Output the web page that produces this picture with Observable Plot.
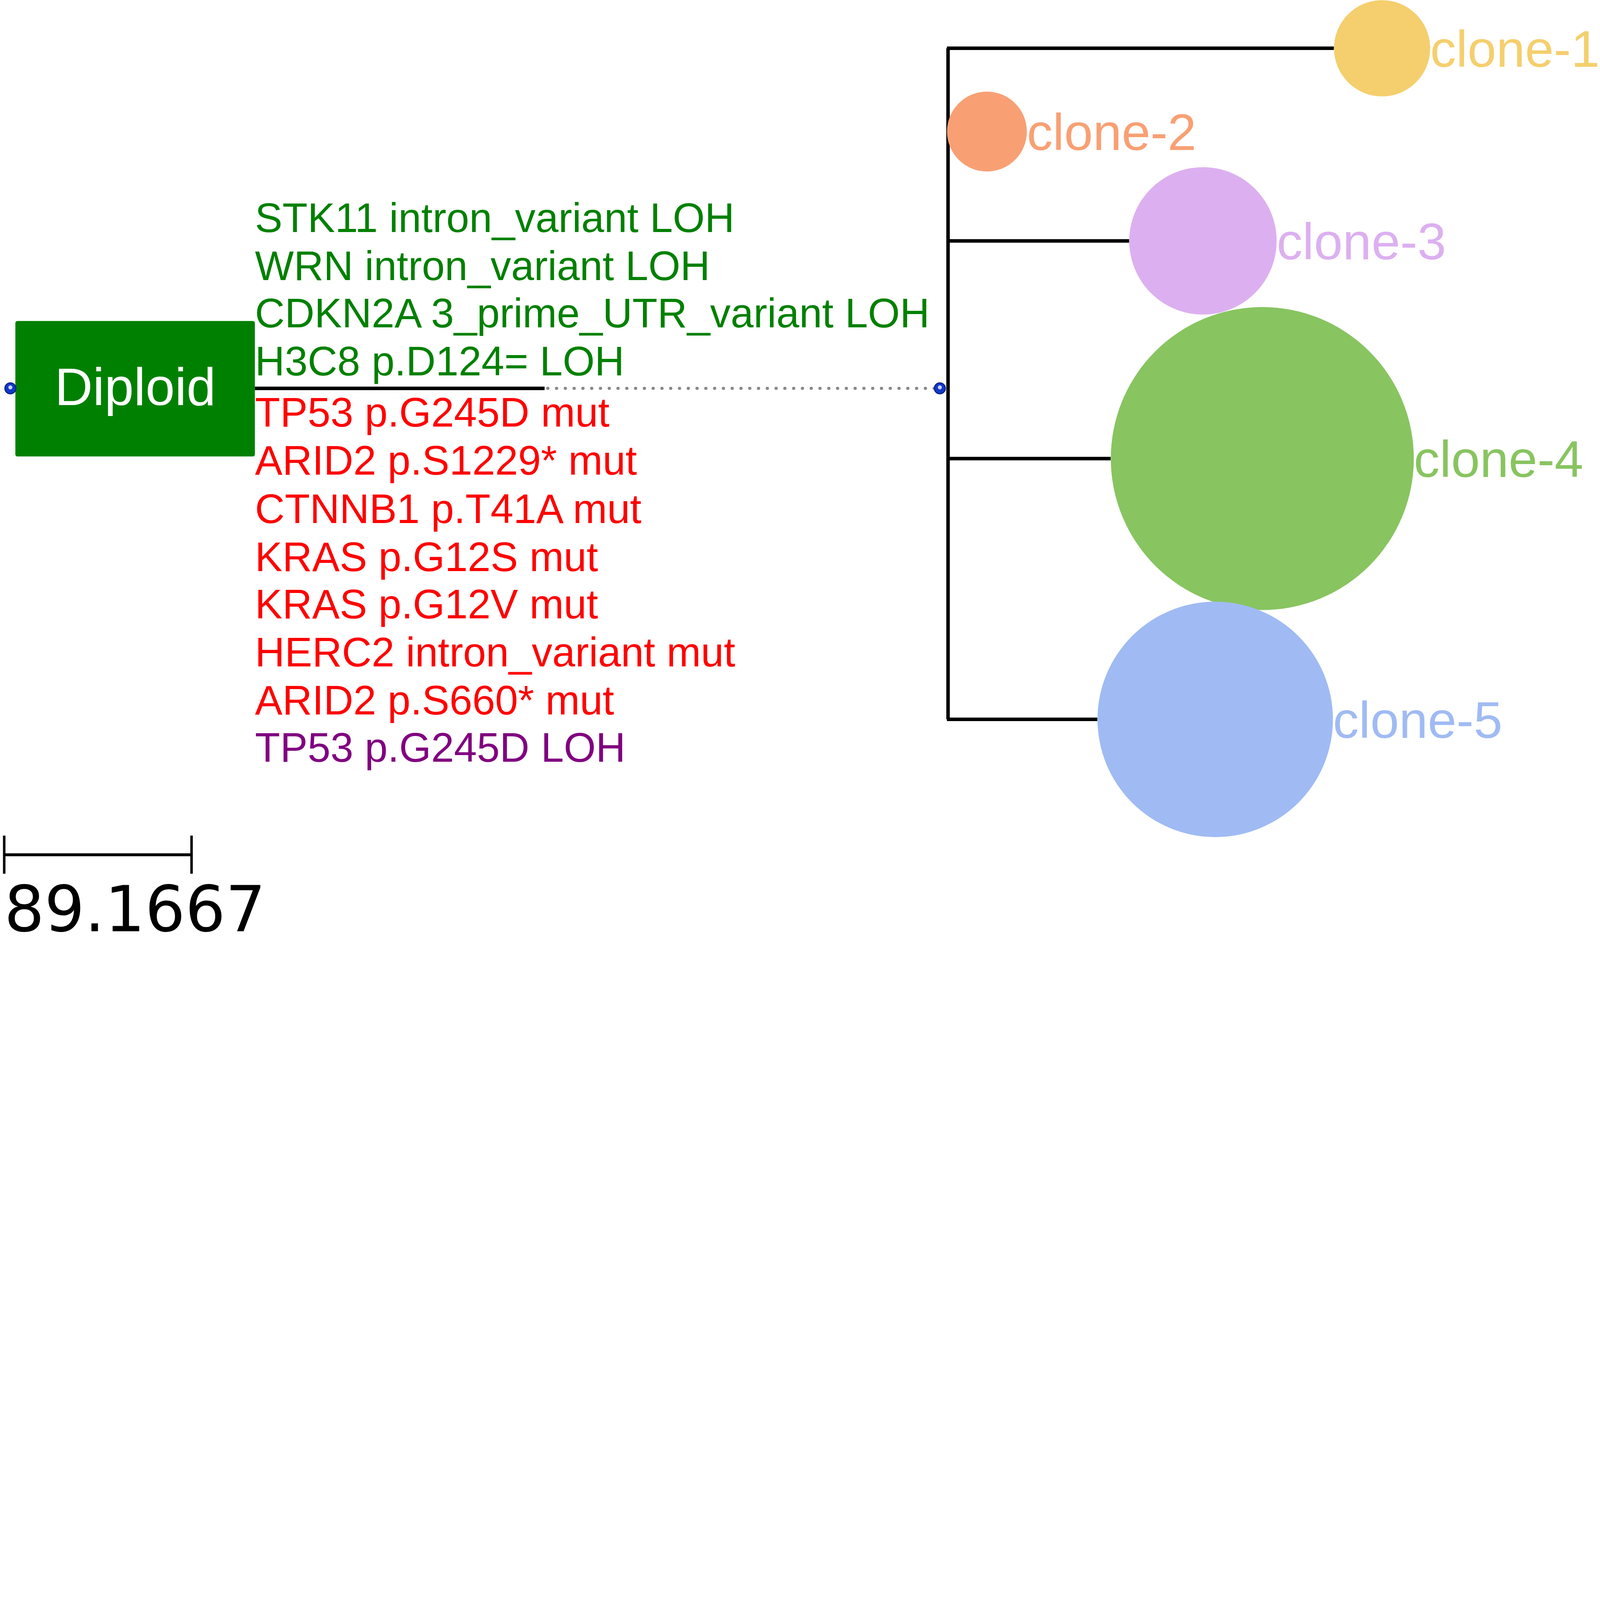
<!DOCTYPE html>
<html><head><meta charset="utf-8">
<script src="https://cdn.jsdelivr.net/npm/d3@7"></script>
<script src="https://cdn.jsdelivr.net/npm/@observablehq/plot@0.6"></script>
<style>html,body{margin:0;background:#fff;overflow:hidden}svg{display:block}</style>
</head><body><div id="chart"></div>
<script>
// clones (positions read in reference units, 1563 x 1036 view)
const clones = ["clone-1", "clone-2", "clone-3", "clone-4", "clone-5"];
const cloneY = [48, 131, 240, 457, 717];
const cloneX = [1350, 964, 1175, 1233, 1187];
const cloneR = [47, 39, 72, 148, 115];
const cloneColors = ["#f5cf6e", "#f8a074", "#dcb0f0", "#88c460", "#a0bbf3"];

const mutations = [
  "STK11 intron_variant LOH", "WRN intron_variant LOH", "CDKN2A 3_prime_UTR_variant LOH",
  "H3C8 p.D124= LOH", "TP53 p.G245D mut", "ARID2 p.S1229* mut", "CTNNB1 p.T41A mut",
  "KRAS p.G12S mut", "KRAS p.G12V mut", "HERC2 intron_variant mut", "ARID2 p.S660* mut",
  "TP53 p.G245D LOH"
];
const mutationY = [218, 266, 313, 361, 412, 460, 508, 556, 603, 651, 699, 746];
const mutationColors = ["green", "green", "green", "green", "red", "red", "red", "red", "red", "red", "red", "purple"];

const rootX = 10, rootY = 387, boxX = [15, 249], boxY = [320, 455];
const solidEnd = 532, nodeX = 918, spineX = 926;
const scaleBar = [4, 187], scaleY = 852, scaleLabel = "89.1667";

const k = 6377 / 1563;
const cl = clones.map((c, i) => ({c, x: cloneX[i], y: cloneY[i], r: cloneR[i], col: cloneColors[i]}));
const mu = mutations.map((m, i) => ({m, y: mutationY[i], col: mutationColors[i]}));

const chart = Plot.plot({
  width: 6377, height: 4142, margin: 0,
  x: {domain: [0, 1563], range: [0, 6377], axis: null},
  y: {domain: [0, 1036], range: [0, 4142], axis: null},
  r: {type: "linear", domain: [0, 100], range: [0, 100 * k]},
  marks: [
    Plot.rect([0], {x1: boxX[0], x2: boxX[1], y1: boxY[0], y2: boxY[1], fill: "#008000", rx: 8}),
    Plot.text(["Diploid"], {x: (boxX[0] + boxX[1]) / 2, y: rootY, fill: "white", fontSize: 210, fontFamily: "Liberation Sans"}),
    Plot.ruleY([rootY], {x1: boxX[1], x2: solidEnd, stroke: "black", strokeWidth: 14}),
    Plot.ruleY([rootY], {x1: solidEnd + 3, x2: nodeX, stroke: "#888", strokeWidth: 12, strokeDasharray: "1,34", strokeLinecap: "round"}),
    Plot.ruleX([spineX], {y1: cloneY[0], y2: cloneY[4], stroke: "black", strokeWidth: 14}),
    Plot.ruleY(cl.filter(d => d.c !== "clone-2"), {y: "y", x1: spineX - 1, x2: d => d.x - d.r, stroke: "black", strokeWidth: 14}),
    Plot.dot(cl, {x: "x", y: "y", r: "r", fill: "col"}),
    Plot.text(cl, {x: d => d.x + d.r, y: d => d.y + 2, text: "c", fill: "col", textAnchor: "start", fontSize: 206, fontFamily: "Liberation Sans"}),
    Plot.dot([rootX, nodeX], {x: d => d, y: rootY, r: 22, fill: "#1238c8", stroke: "#0a1e80", strokeWidth: 4}),
    Plot.dot([rootX, nodeX], {x: d => d, y: rootY - 1, r: 8, fill: "#c8d4ff"}),
    Plot.text(mu, {x: boxX[1], y: "y", text: "m", fill: "col", textAnchor: "start", fontSize: 164, fontFamily: "Liberation Sans"}),
    Plot.ruleY([scaleY], {x1: scaleBar[0], x2: scaleBar[1], stroke: "black", strokeWidth: 12}),
    Plot.ruleX(scaleBar, {y1: scaleY - 19, y2: scaleY + 19, stroke: "black", strokeWidth: 10}),
    Plot.text([scaleLabel], {x: scaleBar[0], y: 908, textAnchor: "start", fill: "black", fontSize: 252, fontFamily: "DejaVu Sans"})
  ]
});
document.getElementById("chart").append(chart);
</script></body></html>
